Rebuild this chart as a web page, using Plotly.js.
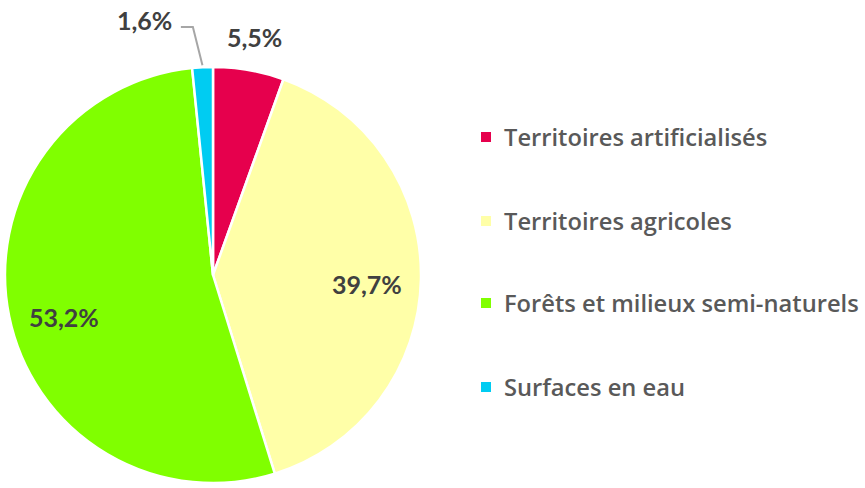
<!DOCTYPE html>
<html>
<head>
<meta charset="utf-8">
<script src="https://cdn.plot.ly/plotly-3.0.1.min.js"></script>
<style>html,body{margin:0;padding:0;background:#fff;}#chart{width:865px;height:488px;}</style>
</head>
<body>
<div id="chart"></div>
<script>
const categories = ['Territoires artificialisés', 'Territoires agricoles', 'Forêts et milieux semi-naturels', 'Surfaces en eau'];
const values = [5.5, 39.7, 53.2, 1.6];
const valueLabels = ['5,5%', '39,7%', '53,2%', '1,6%'];
const colors = ['#E6004D', '#FFFFA8', '#80FF00', '#00CCF2'];

// layout constants (pixels)
const W = 865, H = 488;
const CX = 213, CY = 275, R = 208;
const labelRadius = [1.16, 0.74, 0.74, 1.16];
const labelNudge = [[0, 0], [0, 6], [2, 11], [-56, -14]];
const legendX = 486, legendY = [137, 221, 303, 387], legendTextX = 502;

const px = x => x / W;
const py = y => 1 - y / H;

const total = values.reduce((a, b) => a + b, 0);
let cum = 0;
const annotations = [];
const shapes = [];
values.forEach((v, i) => {
  const th = 2 * Math.PI * (cum + v / 2) / total;
  cum += v;
  const r = labelRadius[i] * R;
  const lx = CX + r * Math.sin(th) + labelNudge[i][0];
  const ly = CY - r * Math.cos(th) + labelNudge[i][1];
  annotations.push({
    x: px(lx), y: py(ly), xref: 'paper', yref: 'paper',
    text: '<b>' + valueLabels[i] + '</b>', showarrow: false,
    xanchor: 'center', yanchor: 'middle',
    font: {family: 'Lato, "Open Sans", sans-serif', size: 25, color: '#404040'}
  });
  if (i === 3) {
    const sx = CX + (R + 2) * Math.sin(th), sy = CY - (R + 2) * Math.cos(th);
    const ex = lx + 36, elx = lx + 48, ey = ly + 7;
    shapes.push({
      type: 'path', xref: 'paper', yref: 'paper',
      path: `M ${px(sx)} ${py(sy)} L ${px(elx)} ${py(ey)} L ${px(ex)} ${py(ey)}`,
      line: {color: '#A6A6A6', width: 2}
    });
  }
});

// custom legend
categories.forEach((c, i) => {
  const y = legendY[i];
  shapes.push({
    type: 'rect', xref: 'paper', yref: 'paper',
    x0: px(legendX - 5), x1: px(legendX + 5), y0: py(y + 5), y1: py(y - 5),
    fillcolor: colors[i], line: {width: 0}
  });
  annotations.push({
    x: px(legendTextX), y: py(y), xref: 'paper', yref: 'paper',
    text: c, showarrow: false, xanchor: 'left', yanchor: 'middle',
    font: {family: '"Open Sans", Lato, sans-serif', size: 23.7, weight: 600, color: '#595959'}
  });
});

const trace = {
  type: 'pie',
  labels: categories,
  values: values,
  sort: false,
  direction: 'clockwise',
  rotation: 0,
  textinfo: 'none',
  hoverinfo: 'label+percent',
  marker: {colors: colors, line: {color: '#FFFFFF', width: 2.5}},
  domain: {x: [px(CX - R), px(CX + R)], y: [py(CY + R), py(CY - R)]},
  showlegend: false
};

const layout = {
  width: W, height: H,
  margin: {l: 0, r: 0, t: 0, b: 0},
  paper_bgcolor: '#FFFFFF',
  showlegend: false,
  annotations: annotations,
  shapes: shapes
};

Plotly.newPlot('chart', [trace], layout, {displayModeBar: false, staticPlot: true});
</script>
</body>
</html>
